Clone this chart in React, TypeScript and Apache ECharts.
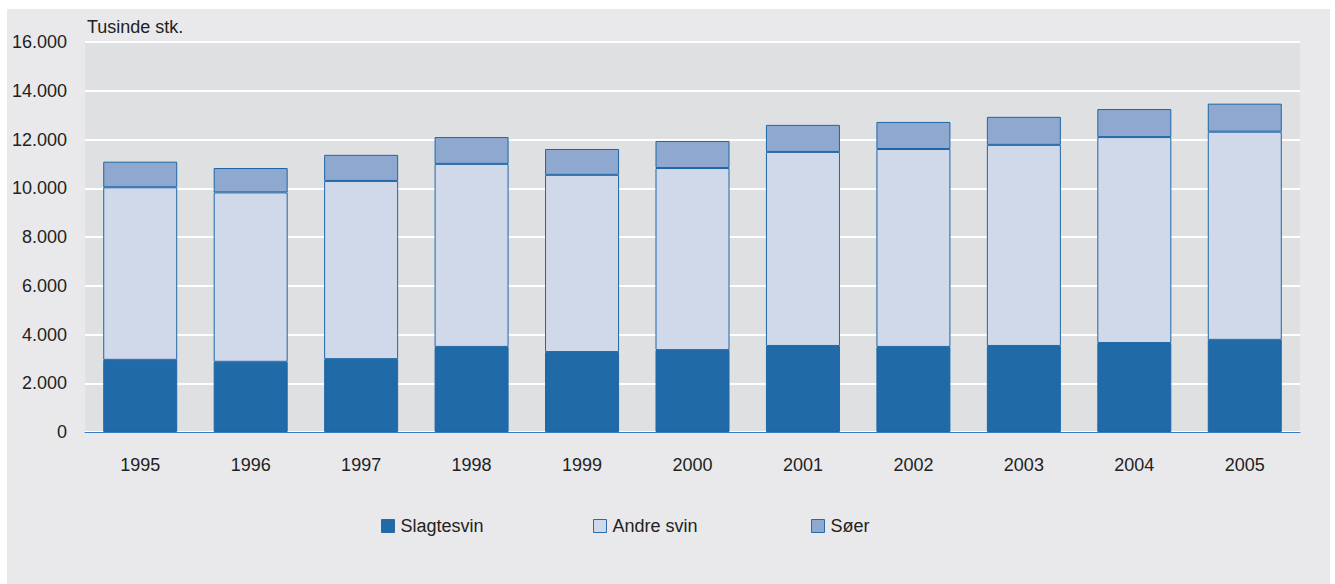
import React, { useEffect, useRef } from "react";
import * as echarts from "echarts";

const years = ["1995", "1996", "1997", "1998", "1999", "2000", "2001", "2002", "2003", "2004", "2005"];
const slagtesvin = [2960, 2880, 2990, 3490, 3280, 3360, 3530, 3490, 3530, 3650, 3780];
const andreSvin = [7080, 6950, 7310, 7510, 7270, 7470, 7960, 8120, 8250, 8450, 8540];
const soer = [1050, 1000, 1070, 1100, 1060, 1110, 1110, 1110, 1150, 1150, 1150];
const seriesNames = ["Slagtesvin", "Andre svin", "Søer"];
const seriesColors = ["#206aa8", "#d0d9ea", "#8ea8cf"];
const legendLefts = [381, 593, 811];
const yTicks = { min: 0, max: 16000, interval: 2000 };

const FONT = "'Liberation Sans', Arial, sans-serif";

export default function App() {
  const ref = useRef<HTMLDivElement>(null);
  useEffect(() => {
    const chart = echarts.init(ref.current!, null, { renderer: "svg" });
    const data = [slagtesvin, andreSvin, soer];
    chart.setOption({
      animation: false,
      backgroundColor: "#ffffff",
      textStyle: { fontFamily: FONT },
      graphic: [
        { type: "rect", z: -10, shape: { x: 7, y: 9, width: 1323, height: 580 }, style: { fill: "#e9e9eb" }, silent: true },
        { type: "rect", z: -9, shape: { x: 85, y: 42, width: 1215, height: 390 }, style: { fill: "#dfe0e2" }, silent: true },
        { type: "text", left: 87, top: 18, style: { text: "Tusinde stk.", fontSize: 18, fill: "#222", fontFamily: FONT } },
      ],
      grid: { left: 85, right: 35, top: 42, bottom: 152, containLabel: false },
      legend: seriesNames.map((n, i) => ({
        top: 517,
        left: legendLefts[i],
        padding: 0,
        itemWidth: 13,
        itemHeight: 13,
        icon: "rect",
        textStyle: { fontSize: 18, color: "#222", fontFamily: FONT, padding: [0, 0, 0, 1] },
        data: [{ name: n, itemStyle: { color: seriesColors[i], borderColor: "#2a6aa8", borderWidth: 1 } }],
      })),
      xAxis: {
        type: "category",
        data: years,
        axisLine: { lineStyle: { color: "#3a7cc0", width: 1 } },
        axisTick: { show: false },
        axisLabel: { fontSize: 18, color: "#222", margin: 24, fontFamily: FONT },
      },
      yAxis: {
        type: "value",
        min: yTicks.min,
        max: yTicks.max,
        interval: yTicks.interval,
        axisLine: { show: false },
        axisTick: { show: false },
        splitLine: { lineStyle: { color: "#ffffff", width: 2 } },
        axisLabel: {
          fontSize: 18,
          color: "#222",
          margin: 18,
          fontFamily: FONT,
          formatter: (v: number) => (v === 0 ? "0" : v.toLocaleString("de-DE")),
        },
      },
      series: seriesNames.map((n, i) => ({
        name: n,
        type: "bar",
        stack: "total",
        barWidth: "67%",
        data: data[i],
        itemStyle: { color: seriesColors[i], borderColor: "#1f66a6", borderWidth: 1 },
      })),
    });
    return () => chart.dispose();
  }, []);
  return <div ref={ref} style={{ position: "absolute", left: 0, top: 0, width: 1335, height: 584 }} />;
}
